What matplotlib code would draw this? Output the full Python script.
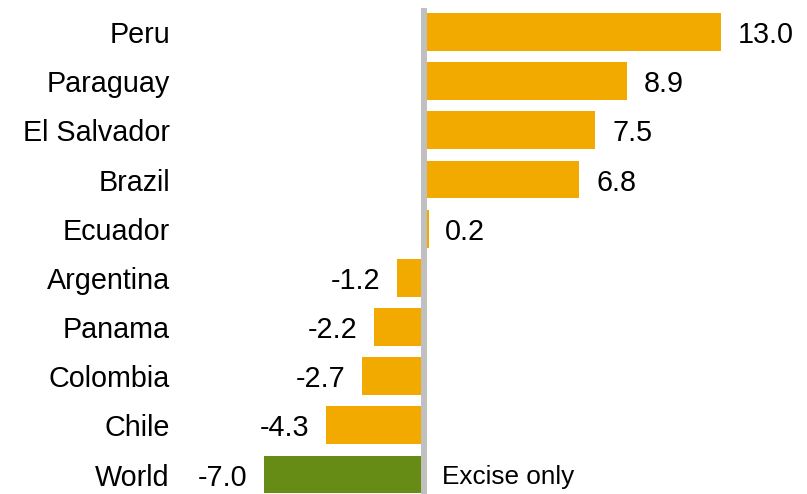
import numpy as np
import matplotlib
matplotlib.use('Agg')
import matplotlib.pyplot as plt

plt.rcParams['font.family'] = ['Liberation Sans', 'DejaVu Sans']

# change by country, world shown separately
countries = ['Peru', 'Paraguay', 'El Salvador', 'Brazil', 'Ecuador',
             'Argentina', 'Panama', 'Colombia', 'Chile', 'World']
values = [13.0, 8.9, 7.5, 6.8, 0.2, -1.2, -2.2, -2.7, -4.3, -7.0]
note = 'Excise only'

orange = '#F2AA00'
green = '#668C15'

W, H = 807, 494
fig = plt.figure(figsize=(W / 100, H / 100), dpi=100)
ax = fig.add_axes([0, 0, 1, 1])

# pixel layout: zero at x=424, 22.86 px per unit, rows 49.17 px apart
x0, sx = 424, 22.86
y0, sy = 32, 49.17
ax.set_xlim(-x0 / sx, (W - x0) / sx)
ax.set_ylim((H - y0) / sy, -y0 / sy)
ax.axis('off')

ypos = np.arange(len(countries))
cols = [orange] * (len(countries) - 1) + [green]
ax.barh(ypos, values, height=0.77, color=cols, zorder=2)

ax.plot([0, 0], [-0.49, len(countries) + 0.5], color='#C0C0C0', lw=4.3,
        solid_capstyle='butt', zorder=3)

fs = 20.7
lab_x = (170 - x0) / sx
for y, name, v in zip(ypos, countries, values):
    ax.text(lab_x, y, name, ha='right', va='center_baseline', fontsize=fs)
    if v >= 0:
        ax.annotate(f'{v:.1f}', (v, y), xytext=(12, 0), textcoords='offset points',
                    ha='left', va='center_baseline', fontsize=fs)
    else:
        ax.annotate(f'{v:.1f}', (v, y), xytext=(-12, 0), textcoords='offset points',
                    ha='right', va='center_baseline', fontsize=fs)

ax.annotate(note, (0, ypos[-1]), xytext=(13, 0), textcoords='offset points',
            ha='left', va='center_baseline', fontsize=18.8)

fig.savefig('out.png', dpi=100)
